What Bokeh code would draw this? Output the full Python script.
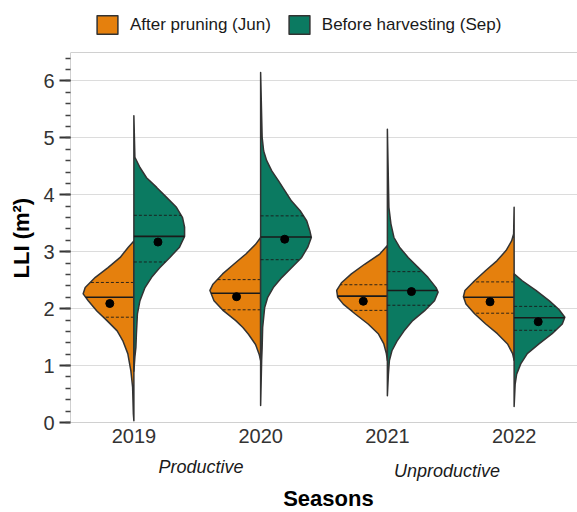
import numpy as np
from bokeh.plotting import figure
from bokeh.models import (Range1d, FixedTicker, Legend, LegendItem, Span,
                          ColumnDataSource)
from bokeh.core.properties import value
from bokeh.embed import file_html
from bokeh.resources import INLINE

# ---------------- data ----------------
seasons = ["2019", "2020", "2021", "2022"]
groups = ["After pruning (Jun)", "Before harvesting (Sep)"]
season_types = ["Productive", "Unproductive"]
season_type_pos = [1.53, 3.47]   # centre of each season-type caption on the x scale

# violin outlines: LLI value and relative half-width (1 = widest)
jun_2019_y = [0.03, 0.15, 0.62, 0.91, 1.21, 1.44, 1.61, 1.79, 1.96, 2.14, 2.26, 2.37, 2.55, 2.72, 2.90, 3.08, 3.19]
jun_2019_w = [0.00, 0.01, 0.025, 0.06, 0.12, 0.22, 0.33, 0.53, 0.73, 0.90, 1.00, 0.96, 0.76, 0.51, 0.27, 0.11, 0.00]
sep_2019_y = [0.90, 1.15, 1.32, 1.56, 1.91, 2.14, 2.37, 2.55, 2.72, 2.90, 3.08, 3.27, 3.43, 3.60, 3.78, 3.95, 4.13, 4.30, 4.48, 4.66, 5.39]
sep_2019_w = [0.00, 0.02, 0.04, 0.05, 0.07, 0.12, 0.22, 0.35, 0.51, 0.71, 0.90, 1.00, 1.00, 0.96, 0.84, 0.65, 0.45, 0.25, 0.12, 0.02, 0.00]

jun_2020_y = [1.09, 1.20, 1.37, 1.55, 1.67, 1.79, 1.96, 2.14, 2.32, 2.43, 2.61, 2.78, 2.96, 3.13, 3.25]
jun_2020_w = [0.00, 0.03, 0.10, 0.24, 0.35, 0.49, 0.73, 0.92, 1.00, 0.94, 0.75, 0.53, 0.29, 0.10, 0.00]
sep_2020_y = [0.30, 1.09, 1.32, 1.67, 2.02, 2.20, 2.37, 2.55, 2.72, 2.90, 3.08, 3.25, 3.37, 3.54, 3.72, 3.89, 4.07, 4.25, 4.42, 4.60, 4.77, 5.01, 6.15]
sep_2020_w = [0.00, 0.02, 0.03, 0.04, 0.08, 0.14, 0.25, 0.42, 0.61, 0.81, 0.93, 1.00, 0.97, 0.91, 0.78, 0.61, 0.48, 0.35, 0.22, 0.12, 0.06, 0.03, 0.00]

jun_2021_y = [1.09, 1.21, 1.38, 1.56, 1.73, 1.91, 2.08, 2.20, 2.32, 2.46, 2.61, 2.78, 2.96, 3.11]
jun_2021_w = [0.00, 0.02, 0.07, 0.18, 0.38, 0.64, 0.87, 0.98, 1.00, 0.90, 0.71, 0.45, 0.15, 0.00]
sep_2021_y = [0.47, 0.85, 1.09, 1.26, 1.43, 1.61, 1.79, 1.96, 2.14, 2.29, 2.37, 2.55, 2.73, 2.90, 3.08, 3.25, 3.49, 3.78, 5.15]
sep_2021_w = [0.00, 0.02, 0.04, 0.09, 0.19, 0.33, 0.50, 0.73, 0.93, 1.00, 0.96, 0.80, 0.60, 0.41, 0.24, 0.13, 0.07, 0.03, 0.00]

jun_2022_y = [1.09, 1.21, 1.38, 1.56, 1.73, 1.91, 2.08, 2.21, 2.32, 2.49, 2.67, 2.84, 3.02, 3.19, 3.31, 3.78]
jun_2022_w = [0.00, 0.03, 0.13, 0.33, 0.56, 0.78, 0.95, 1.00, 0.97, 0.78, 0.56, 0.34, 0.16, 0.05, 0.01, 0.00]
sep_2022_y = [0.28, 0.67, 0.85, 1.03, 1.21, 1.38, 1.56, 1.73, 1.85, 1.99, 2.14, 2.32, 2.49, 2.61]
sep_2022_w = [0.00, 0.02, 0.05, 0.13, 0.26, 0.49, 0.75, 0.95, 1.00, 0.88, 0.69, 0.43, 0.16, 0.00]

jun_median = [2.20, 2.27, 2.22, 2.20]
jun_q1 = [1.85, 1.98, 1.97, 1.92]
jun_q3 = [2.46, 2.51, 2.42, 2.47]
jun_mean = [2.09, 2.21, 2.13, 2.12]

sep_median = [3.27, 3.26, 2.32, 1.84]
sep_q1 = [2.82, 2.86, 2.06, 1.62]
sep_q3 = [3.64, 3.63, 2.65, 2.04]
sep_mean = [3.17, 3.22, 2.30, 1.77]

# ---------------- style / layout ----------------
FONT = "Liberation Sans"
JUN_FILL = "#E5800D"
SEP_FILL = "#0B7A61"
OUTLINE = "#333333"
AXIS_GREY = "#D0D0D0"
HALF = 0.40      # max half-width of a violin in category units
DOT_OFF = 0.19   # horizontal offset of the mean dot

W, H = 577, 512
LEFT = 70                 # room for the y axis
PANEL_TOP, PANEL_BOTTOM = 52, 422   # pixel rows of the value 6.5 / 0
Y_MAX_SHOWN = 6.5
px_per_unit = (PANEL_BOTTOM - PANEL_TOP) / Y_MAX_SHOWN
y_lo = -(H - PANEL_BOTTOM) / px_per_unit
y_hi = PANEL_BOTTOM / px_per_unit

jun_profiles = [(jun_2019_y, jun_2019_w), (jun_2020_y, jun_2020_w),
                (jun_2021_y, jun_2021_w), (jun_2022_y, jun_2022_w)]
sep_profiles = [(sep_2019_y, sep_2019_w), (sep_2020_y, sep_2020_w),
                (sep_2021_y, sep_2021_w), (sep_2022_y, sep_2022_w)]

p = figure(width=W, height=H, output_backend="svg", toolbar_location=None,
           x_range=Range1d(0.5, 4.5), y_range=Range1d(y_lo, y_hi),
           min_border_left=LEFT, min_border_right=0, min_border_top=0,
           min_border_bottom=0, background_fill_color="white",
           border_fill_color="white")
p.outline_line_color = None
p.xaxis.visible = False
p.xgrid.grid_line_color = None

major = list(range(0, 7))
minor = [round(0.2 * k, 1) for k in range(0, 33)]
ya = p.yaxis[0]
ya.ticker = FixedTicker(ticks=major, minor_ticks=minor)
ya.bounds = (0, Y_MAX_SHOWN)
ya.axis_line_color = AXIS_GREY
ya.major_tick_line_color = "#333333"
ya.major_tick_line_width = 2
ya.major_tick_out = 11
ya.major_tick_in = 0
ya.minor_tick_line_color = "#444444"
ya.minor_tick_line_width = 1.5
ya.minor_tick_out = 5
ya.minor_tick_in = 0
ya.major_label_standoff = 5
ya.major_label_text_font = FONT
ya.major_label_text_font_size = "20px"
ya.major_label_text_color = "#333333"
# the label is centred on the whole frame; leading no-break spaces lift it to
# the middle of the 0-6.5 panel
ya.axis_label = "\u00a0" * 6 + "LLI (m²)"
ya.axis_label_standoff = 6
ya.axis_label_text_font = FONT
ya.axis_label_text_font_size = "22px"
ya.axis_label_text_font_style = "bold"
ya.axis_label_text_color = "black"

p.ygrid.grid_line_color = "#DCDCDC"
p.ygrid.grid_line_width = 1

# panel border (top) and x-axis line (bottom)
p.add_layout(Span(location=Y_MAX_SHOWN, dimension="width", line_color=AXIS_GREY, line_width=1))
p.add_layout(Span(location=0, dimension="width", line_color=AXIS_GREY, line_width=1))

def build(profiles, sign):
    xs, ys = [], []
    for i, (yy, ww) in enumerate(profiles):
        c = i + 1
        xs.append(list(c + sign * HALF * np.asarray(ww, float)))
        ys.append(list(np.asarray(yy, float)))
    return xs, ys

def stat_segments(profiles, stat, sign):
    x0, x1, yv = [], [], []
    for i, (yy, ww) in enumerate(profiles):
        c = i + 1
        w = float(np.interp(stat[i], yy, ww))
        x0.append(c)
        x1.append(c + sign * HALF * w)
        yv.append(stat[i])
    return dict(x0=x0, x1=x1, y0=yv, y1=yv)

violin_renderers = []
for profiles, sign, fill, med, q1, q3, mean in [
        (jun_profiles, -1, JUN_FILL, jun_median, jun_q1, jun_q3, jun_mean),
        (sep_profiles, 1, SEP_FILL, sep_median, sep_q1, sep_q3, sep_mean)]:
    xs, ys = build(profiles, sign)
    r = p.patches(xs, ys, fill_color=fill, line_color=OUTLINE, line_width=1.5,
                  line_join="round")
    violin_renderers.append(r)
    for q in (q1, q3):
        s = stat_segments(profiles, q, sign)
        p.segment(x0="x0", y0="y0", x1="x1", y1="y1", source=ColumnDataSource(s),
                  line_color="#1a1a1a", line_width=0.9, line_dash="3 2")
    s = stat_segments(profiles, med, sign)
    p.segment(x0="x0", y0="y0", x1="x1", y1="y1", source=ColumnDataSource(s),
              line_color="#1a1a1a", line_width=1.6)
    p.scatter(x=[i + 1 + sign * DOT_OFF for i in range(len(seasons))], y=mean,
              size=8, color="black")

# x-axis texts, drawn below the value 0 with pixel offsets
season_x = [i + 1 for i in range(len(seasons))]
p.text(x=season_x, y=[0] * len(seasons), text=seasons, y_offset=13,
       text_align="center", text_baseline="alphabetic", text_font=value(FONT),
       text_font_size="20px", text_color="#333333")
p.text(x=[season_type_pos[0]], y=[0], text=[season_types[0]], y_offset=44,
       text_align="center", text_baseline="alphabetic", text_font=value(FONT),
       text_font_size="18px", text_font_style="italic", text_color="#1a1a1a")
p.text(x=[season_type_pos[1]], y=[0], text=[season_types[1]], y_offset=48,
       text_align="center", text_baseline="alphabetic", text_font=value(FONT),
       text_font_size="18px", text_font_style="italic", text_color="#1a1a1a")
p.text(x=[(p.x_range.start + p.x_range.end) / 2 + 0.035], y=[0], text=["Seasons"],
       y_offset=76, text_align="center", text_baseline="alphabetic",
       text_font=value(FONT), text_font_size="22px", text_font_style="bold",
       text_color="black")

legend = Legend(items=[LegendItem(label=groups[0], renderers=[violin_renderers[0]]),
                       LegendItem(label=groups[1], renderers=[violin_renderers[1]])],
                location=(24, H - 13 - 23), orientation="horizontal",
                glyph_width=26, glyph_height=23, label_standoff=10, spacing=15,
                padding=0, margin=0, border_line_color=None,
                background_fill_alpha=0, label_text_font=FONT,
                label_text_font_size="17px", label_text_color="#1a1a1a",
                label_height=23)
p.add_layout(legend)

open("out.html", "w").write(file_html(p, INLINE))
